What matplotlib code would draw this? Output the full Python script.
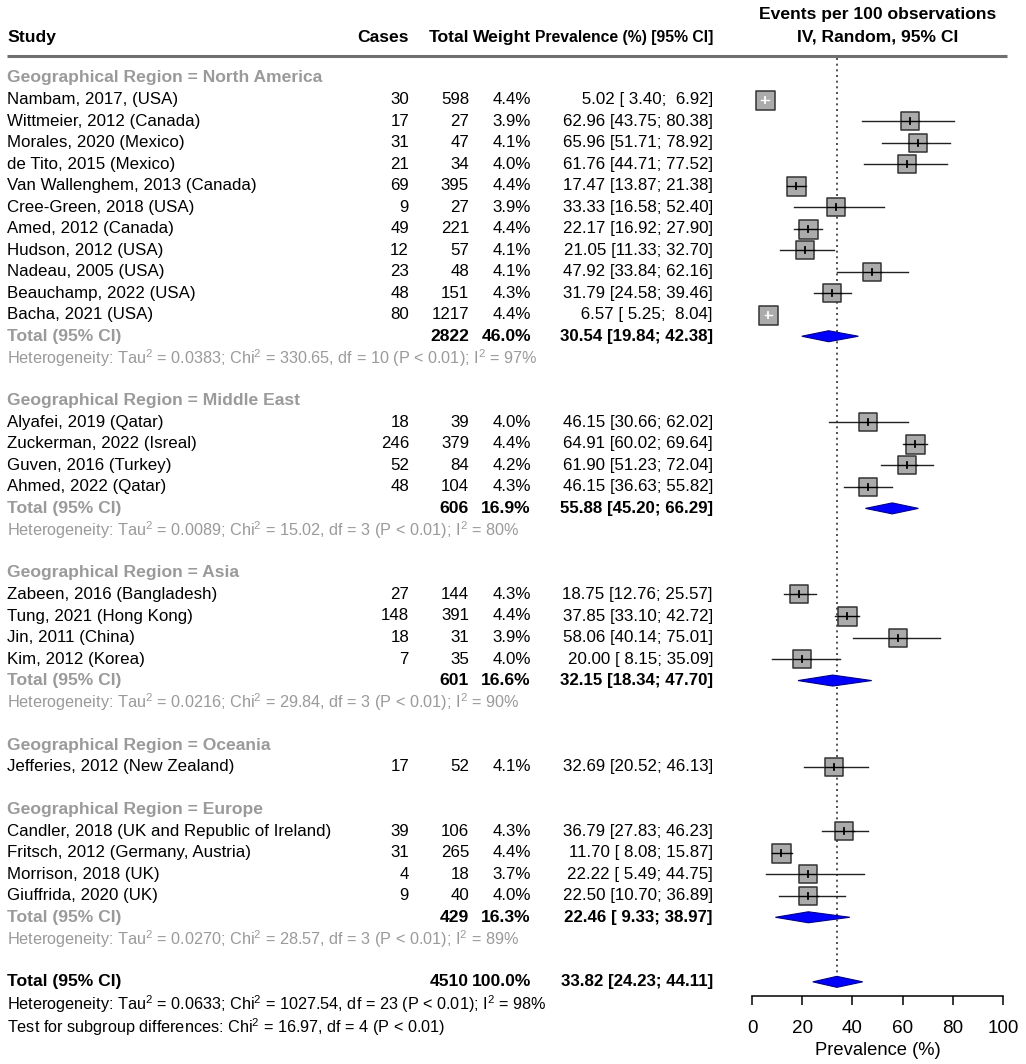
import matplotlib
matplotlib.use("Agg")
import matplotlib.pyplot as plt
import numpy as np

plt.rcParams['font.family'] = ['Liberation Sans', 'DejaVu Sans']
plt.rcParams['mathtext.fontset'] = 'custom'
plt.rcParams['mathtext.rm'] = 'Liberation Sans'
plt.rcParams['mathtext.default'] = 'regular'

# ---- data ----
groups = ["North America", "Middle East", "Asia", "Oceania", "Europe"]

studies = [
    ["Nambam, 2017, (USA)", "Wittmeier, 2012 (Canada)", "Morales, 2020 (Mexico)",
     "de Tito, 2015 (Mexico)", "Van Wallenghem, 2013 (Canada)", "Cree-Green, 2018 (USA)",
     "Amed, 2012 (Canada)", "Hudson, 2012 (USA)", "Nadeau, 2005 (USA)",
     "Beauchamp, 2022 (USA)", "Bacha, 2021 (USA)"],
    ["Alyafei, 2019 (Qatar)", "Zuckerman, 2022 (Isreal)", "Guven, 2016 (Turkey)",
     "Ahmed, 2022 (Qatar)"],
    ["Zabeen, 2016 (Bangladesh)", "Tung, 2021 (Hong Kong)", "Jin, 2011 (China)",
     "Kim, 2012 (Korea)"],
    ["Jefferies, 2012 (New Zealand)"],
    ["Candler, 2018 (UK and Republic of Ireland)", "Fritsch, 2012 (Germany, Austria)",
     "Morrison, 2018 (UK)", "Giuffrida, 2020 (UK)"],
]
cases = [
    [30, 17, 31, 21, 69, 9, 49, 12, 23, 48, 80],
    [18, 246, 52, 48],
    [27, 148, 18, 7],
    [17],
    [39, 31, 4, 9],
]
totals = [
    [598, 27, 47, 34, 395, 27, 221, 57, 48, 151, 1217],
    [39, 379, 84, 104],
    [144, 391, 31, 35],
    [52],
    [106, 265, 18, 40],
]
weights = [
    [4.4, 3.9, 4.1, 4.0, 4.4, 3.9, 4.4, 4.1, 4.1, 4.3, 4.4],
    [4.0, 4.4, 4.2, 4.3],
    [4.3, 4.4, 3.9, 4.0],
    [4.1],
    [4.3, 4.4, 3.7, 4.0],
]
prev = [
    [5.02, 62.96, 65.96, 61.76, 17.47, 33.33, 22.17, 21.05, 47.92, 31.79, 6.57],
    [46.15, 64.91, 61.90, 46.15],
    [18.75, 37.85, 58.06, 20.00],
    [32.69],
    [36.79, 11.70, 22.22, 22.50],
]
lower = [
    [3.40, 43.75, 51.71, 44.71, 13.87, 16.58, 16.92, 11.33, 33.84, 24.58, 5.25],
    [30.66, 60.02, 51.23, 36.63],
    [12.76, 33.10, 40.14, 8.15],
    [20.52],
    [27.83, 8.08, 5.49, 10.70],
]
upper = [
    [6.92, 80.38, 78.92, 77.52, 21.38, 52.40, 27.90, 32.70, 62.16, 39.46, 8.04],
    [62.02, 69.64, 72.04, 55.82],
    [25.57, 42.72, 75.01, 35.09],
    [46.13],
    [46.23, 15.87, 44.75, 36.89],
]

# subgroup pooled results (None = single study, no pooled row)
grp_total = [2822, 606, 601, None, 429]
grp_weight = [46.0, 16.9, 16.6, None, 16.3]
grp_prev = [30.54, 55.88, 32.15, None, 22.46]
grp_lower = [19.84, 45.20, 18.34, None, 9.33]
grp_upper = [42.38, 66.29, 47.70, None, 38.97]
grp_het = [
    ("0.0383", "330.65", "10", "97"),
    ("0.0089", "15.02", "3", "80"),
    ("0.0216", "29.84", "3", "90"),
    None,
    ("0.0270", "28.57", "3", "89"),
]

overall_total = 4510
overall_prev, overall_lower, overall_upper = 33.82, 24.23, 44.11
overall_het = ("0.0633", "1027.54", "23", "98")
subgroup_test = ("16.97", "4")

x_ticks = [0, 20, 40, 60, 80, 100]

# ---- layout ----
W, H = 1026, 1064
ROW_PX = 21.52
ROW0_PX = 78
y_top = -ROW0_PX / ROW_PX
y_bot = (H - ROW0_PX) / ROW_PX

FS = 12.2        # regular rows
FS_B = 12.6      # bold labels
FS_HET = 11.7    # heterogeneity lines
GRAY_TXT = '#9a9a9a'
X_STUDY, X_CASES, X_TOTAL, X_WEIGHT, X_CI = 7, 409, 469, 531, 713
AX_L, AX_R = 752, 1003
PX_PER_UNIT = (AX_R - AX_L) / 100.0

fig = plt.figure(figsize=(W / 100, H / 100), dpi=100)
ax = fig.add_axes([0, 0, 1, 1])
ax.set_xlim(0, W)
ax.set_ylim(y_bot, y_top)
ax.axis('off')

fax = fig.add_axes([AX_L / W, 0, (AX_R - AX_L) / W, 1])
fax.set_xlim(0, 100)
fax.set_ylim(y_bot, y_top)
fax.patch.set_visible(False)
for s in ['left', 'right', 'top']:
    fax.spines[s].set_visible(False)
fax.set_yticks([])


def het_text(t, c, df, i2):
    return (r"Heterogeneity: Tau$^{2}$ = %s; Chi$^{2}$ = %s, df = %s (P < 0.01); I$^{2}$ = %s%%"
            % (t, c, df, i2))


def ci_text(e, lo, hi):
    return "%5.2f [%5.2f; %5.2f]" % (e, lo, hi)


def row_numbers(y, c, t, w, e, lo, hi, bold=False):
    fw = 'bold' if bold else 'normal'
    fs = FS_B if bold else FS
    if c is not None:
        ax.text(X_CASES, y, str(c), ha='right', va='center', fontsize=fs, fontweight=fw)
    ax.text(X_TOTAL, y, str(t), ha='right', va='center', fontsize=fs, fontweight=fw)
    ax.text(X_WEIGHT, y, "%.1f%%" % w, ha='right', va='center', fontsize=fs, fontweight=fw)
    ax.text(X_CI, y, ci_text(e, lo, hi), ha='right', va='center',
            fontsize=FS if not bold else FS_B - 0.4, fontweight=fw)


def diamond(y, e, lo, hi):
    h = 5.5 / ROW_PX
    fax.fill([lo, e, hi, e], [y, y - h, y, y + h], facecolor='#0000ff',
             edgecolor='#00008b', linewidth=0.8, zorder=4, clip_on=False)


# header
ax.text(X_STUDY, -1.9, "Study", ha='left', va='center', fontsize=FS_B, fontweight='bold')
ax.text(X_CASES, -1.9, "Cases", ha='right', va='center', fontsize=FS_B, fontweight='bold')
ax.text(X_TOTAL, -1.9, "Total", ha='right', va='center', fontsize=FS_B, fontweight='bold')
ax.text(X_WEIGHT, -1.9, "Weight", ha='right', va='center', fontsize=FS_B, fontweight='bold')
ax.text(X_CI, -1.9, "Prevalence (%) [95% CI]", ha='right', va='center', fontsize=11.3,
        fontweight='bold')
ax.text(878, -2.95, "Events per 100 observations", ha='center', va='center', fontsize=FS_B,
        fontweight='bold')
ax.text(878, -1.9, "IV, Random, 95% CI", ha='center', va='center', fontsize=FS_B,
        fontweight='bold')
ax.plot([7, 1007], [-1.02, -1.02], color='#707070', linewidth=2.2, solid_capstyle='butt')

max_w = max(max(w) for w in weights)
row = 0
for g in range(len(groups)):
    ax.text(X_STUDY, row, "Geographical Region = " + groups[g], ha='left', va='center',
            fontsize=FS_B, fontweight='bold', color=GRAY_TXT)
    row += 1
    for i in range(len(studies[g])):
        e, lo, hi, w = prev[g][i], lower[g][i], upper[g][i], weights[g][i]
        ax.text(X_STUDY, row, studies[g][i], ha='left', va='center', fontsize=FS)
        row_numbers(row, cases[g][i], totals[g][i], w, e, lo, hi)
        side_px = 19.0 * np.sqrt(w / max_w)
        half = side_px / 2 / PX_PER_UNIT
        inside = lo >= e - half and hi <= e + half
        lc = 'white' if inside else 'black'
        fax.plot([lo, hi], [row, row], color='#222222', linewidth=1.0, zorder=2)
        fax.scatter([e], [row], marker='s', s=(side_px * 0.72) ** 2, facecolor='#ababab',
                    edgecolor='#333333', linewidth=1.1, zorder=3, clip_on=False)
        seg_lo, seg_hi = max(lo, e - half), min(hi, e + half)
        fax.plot([seg_lo, seg_hi], [row, row], color=lc, linewidth=1.0, zorder=4)
        tick_h = 3.0 / ROW_PX
        fax.plot([e, e], [row - tick_h, row + tick_h], color=lc, linewidth=1.3, zorder=4)
        row += 1
    if grp_total[g] is not None:
        ax.text(X_STUDY, row, "Total (95% CI)", ha='left', va='center', fontsize=FS_B,
                fontweight='bold', color=GRAY_TXT)
        row_numbers(row, None, grp_total[g], grp_weight[g], grp_prev[g], grp_lower[g],
                    grp_upper[g], bold=True)
        diamond(row, grp_prev[g], grp_lower[g], grp_upper[g])
        row += 1
        ax.text(X_STUDY, row, het_text(*grp_het[g]), ha='left', va='center',
                fontsize=FS_HET, color=GRAY_TXT)
        row += 1
    row += 1

# overall
ax.text(X_STUDY, row, "Total (95% CI)", ha='left', va='center', fontsize=FS_B,
        fontweight='bold')
row_numbers(row, None, overall_total, 100.0, overall_prev, overall_lower, overall_upper,
            bold=True)
diamond(row, overall_prev, overall_lower, overall_upper)
ax.text(X_STUDY, row + 1.05, het_text(*overall_het), ha='left', va='center', fontsize=FS_HET)
ax.text(X_STUDY, row + 2.1,
        r"Test for subgroup differences: Chi$^{2}$ = %s, df = %s (P < 0.01)" % subgroup_test,
        ha='left', va='center', fontsize=FS_HET)

# reference line at pooled estimate
fax.plot([overall_prev, overall_prev], [-0.95, row - 0.3], color='#333333',
         linestyle=(0, (1.2, 2.2)), linewidth=1.2, zorder=1)

# x axis
fax.spines['bottom'].set_position(('data', 42.66))
fax.spines['bottom'].set_linewidth(1.1)
fax.set_xticks(x_ticks)
fax.tick_params(axis='x', direction='out', length=6.5, width=1.1, labelsize=13.6, pad=11)
fax.set_xlabel("Prevalence (%)", fontsize=13.2, labelpad=3)

fig.savefig("out.png", dpi=100)
